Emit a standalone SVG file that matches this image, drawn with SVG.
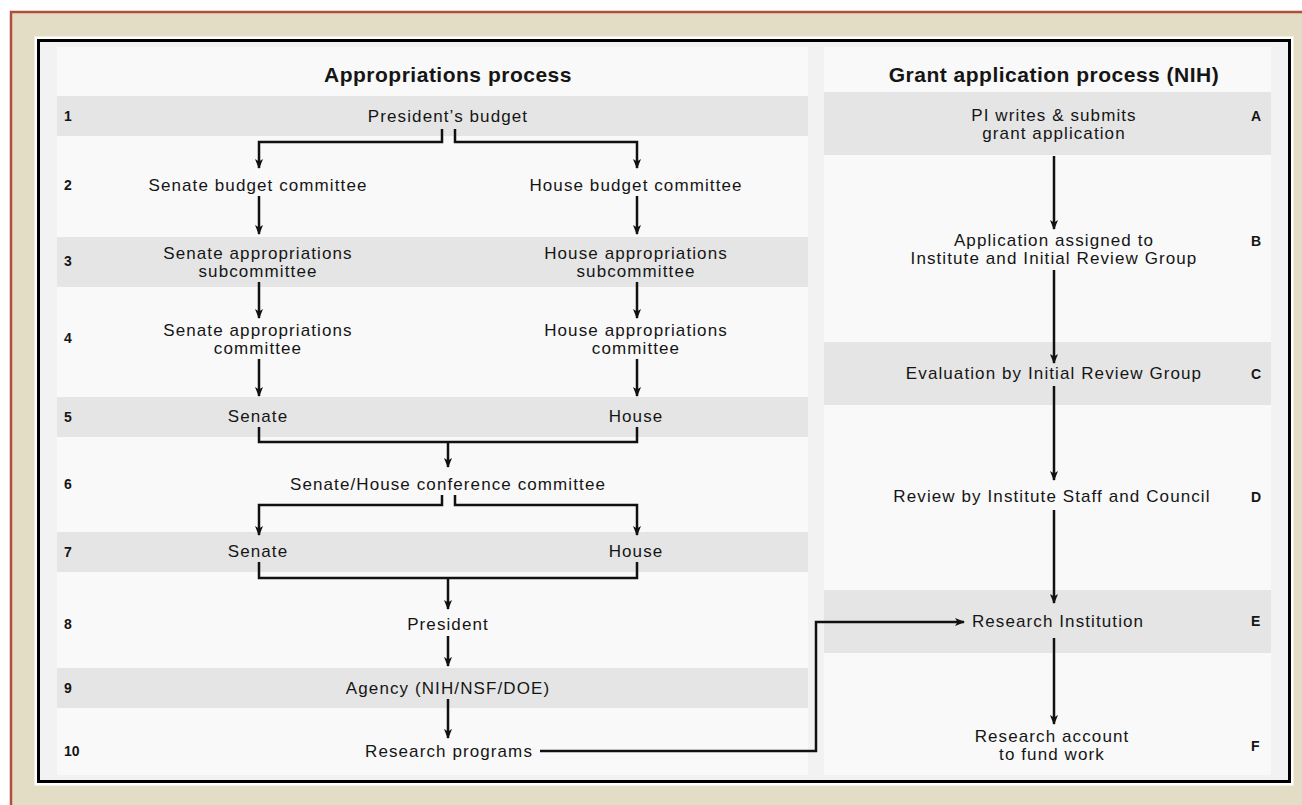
<svg xmlns="http://www.w3.org/2000/svg" width="1302" height="805" viewBox="0 0 1302 805">
<defs>
<marker id="ah" markerWidth="10" markerHeight="10" viewBox="0 0 10 10" refX="9" refY="5" orient="auto" markerUnits="userSpaceOnUse">
<path d="M0,1 L10,5 L0,9 L2.5,5 Z" fill="#111"/>
</marker>
<style>
.t{font-family:"Liberation Sans",Arial,sans-serif;font-size:17px;letter-spacing:1.1px;fill:#151515;text-anchor:middle}
.n{font-family:"Liberation Sans",Arial,sans-serif;font-size:14px;font-weight:bold;fill:#151515}
.h{font-family:"Liberation Sans",Arial,sans-serif;font-size:21px;letter-spacing:0.5px;font-weight:bold;fill:#151515;text-anchor:middle}
.band{fill:#e5e5e5}
.c{fill:none;stroke:#111;stroke-width:2.5}
.a{fill:none;stroke:#111;stroke-width:2.5;marker-end:url(#ah)}
</style>
</defs>
<rect x="0" y="0" width="1302" height="805" fill="#ffffff"/>
<rect x="11" y="12" width="1300" height="800" fill="#e4ddc6" stroke="#b0503a" stroke-width="2.5"/>
<rect x="37" y="39" width="1254" height="744" fill="#f2f2f2" stroke="#ffffff" stroke-width="5"/>
<rect x="38.5" y="40.5" width="1251" height="741" fill="none" stroke="#000" stroke-width="3"/>
<rect x="57" y="47" width="751" height="728" fill="#f9f9f9"/>
<rect x="824" y="47" width="447" height="728" fill="#f9f9f9"/>
<g id="bands">
<rect class="band" x="57" y="96" width="751" height="40"/>
<rect class="band" x="57" y="237" width="751" height="50"/>
<rect class="band" x="57" y="397" width="751" height="40"/>
<rect class="band" x="57" y="532" width="751" height="40"/>
<rect class="band" x="57" y="668" width="751" height="40"/>
<rect class="band" x="824" y="92" width="447" height="63"/>
<rect class="band" x="824" y="342" width="447" height="63"/>
<rect class="band" x="824" y="590" width="447" height="63"/>
</g>
<g id="titles">
<text class="h" x="448" y="82">Appropriations process</text>
<text class="h" x="1054" y="82">Grant application process (NIH)</text>
</g>
<g id="numbers">
<text class="n" x="64" y="121">1</text>
<text class="n" x="64" y="190">2</text>
<text class="n" x="64" y="266">3</text>
<text class="n" x="64" y="343">4</text>
<text class="n" x="64" y="422">5</text>
<text class="n" x="64" y="489">6</text>
<text class="n" x="64" y="557">7</text>
<text class="n" x="64" y="629">8</text>
<text class="n" x="64" y="693">9</text>
<text class="n" x="64" y="756">10</text>
<text class="n" x="1251" y="121">A</text>
<text class="n" x="1251" y="246">B</text>
<text class="n" x="1251" y="379">C</text>
<text class="n" x="1251" y="502">D</text>
<text class="n" x="1251" y="626">E</text>
<text class="n" x="1251" y="751">F</text>
</g>
<g id="n-president-budget"><text class="t" x="448" y="122">President’s budget</text></g>
<g id="n-senate-budget"><text class="t" x="258" y="191">Senate budget committee</text></g>
<g id="n-house-budget"><text class="t" x="636" y="191">House budget committee</text></g>
<g id="n-senate-approp-sub"><text class="t" x="258" y="259">Senate appropriations</text><text class="t" x="258" y="277">subcommittee</text></g>
<g id="n-house-approp-sub"><text class="t" x="636" y="259">House appropriations</text><text class="t" x="636" y="277">subcommittee</text></g>
<g id="n-senate-approp"><text class="t" x="258" y="336">Senate appropriations</text><text class="t" x="258" y="354">committee</text></g>
<g id="n-house-approp"><text class="t" x="636" y="336">House appropriations</text><text class="t" x="636" y="354">committee</text></g>
<g id="n-senate-5"><text class="t" x="258" y="422">Senate</text></g>
<g id="n-house-5"><text class="t" x="636" y="422">House</text></g>
<g id="n-conference"><text class="t" x="448" y="490">Senate/House conference committee</text></g>
<g id="n-senate-7"><text class="t" x="258" y="557">Senate</text></g>
<g id="n-house-7"><text class="t" x="636" y="557">House</text></g>
<g id="n-president"><text class="t" x="448" y="630">President</text></g>
<g id="n-agency"><text class="t" x="448" y="694">Agency (NIH/NSF/DOE)</text></g>
<g id="n-research-programs"><text class="t" x="449" y="757">Research programs</text></g>
<g id="n-pi"><text class="t" x="1054" y="121">PI writes &amp; submits</text><text class="t" x="1054" y="139">grant application</text></g>
<g id="n-assigned"><text class="t" x="1054" y="246">Application assigned to</text><text class="t" x="1054" y="264">Institute and Initial Review Group</text></g>
<g id="n-evaluation"><text class="t" x="1054" y="379">Evaluation by Initial Review Group</text></g>
<g id="n-review"><text class="t" x="1052" y="502">Review by Institute Staff and Council</text></g>
<g id="n-institution"><text class="t" x="1058" y="627">Research Institution</text></g>
<g id="n-account"><text class="t" x="1052" y="742">Research account</text><text class="t" x="1052" y="760">to fund work</text></g>
<g id="connectors">
<path class="a" d="M442,129 V142 H259 V168"/>
<path class="a" d="M455,129 V142 H637 V168"/>
<path class="a" d="M259,196 V234"/>
<path class="a" d="M637,196 V234"/>
<path class="a" d="M259,282 V318"/>
<path class="a" d="M637,282 V318"/>
<path class="a" d="M259,359 V396"/>
<path class="a" d="M637,359 V396"/>
<path class="c" d="M259,427 V442 H637 V427"/>
<path class="a" d="M448,442 V467"/>
<path class="a" d="M442,495 V505 H259 V535"/>
<path class="a" d="M455,495 V505 H637 V535"/>
<path class="c" d="M259,562 V578 H637 V562"/>
<path class="a" d="M448,578 V609"/>
<path class="a" d="M448,636 V666"/>
<path class="a" d="M448,699 V738"/>
<path class="c" d="M540,751 H817"/>
<path class="a" d="M816,752 V622 H964"/>
<path class="a" d="M1054,156 V229"/>
<path class="a" d="M1054,270 V363"/>
<path class="a" d="M1054,386 V480"/>
<path class="a" d="M1054,510 V603"/>
<path class="a" d="M1054,638 V724"/>
</g>
</svg>
